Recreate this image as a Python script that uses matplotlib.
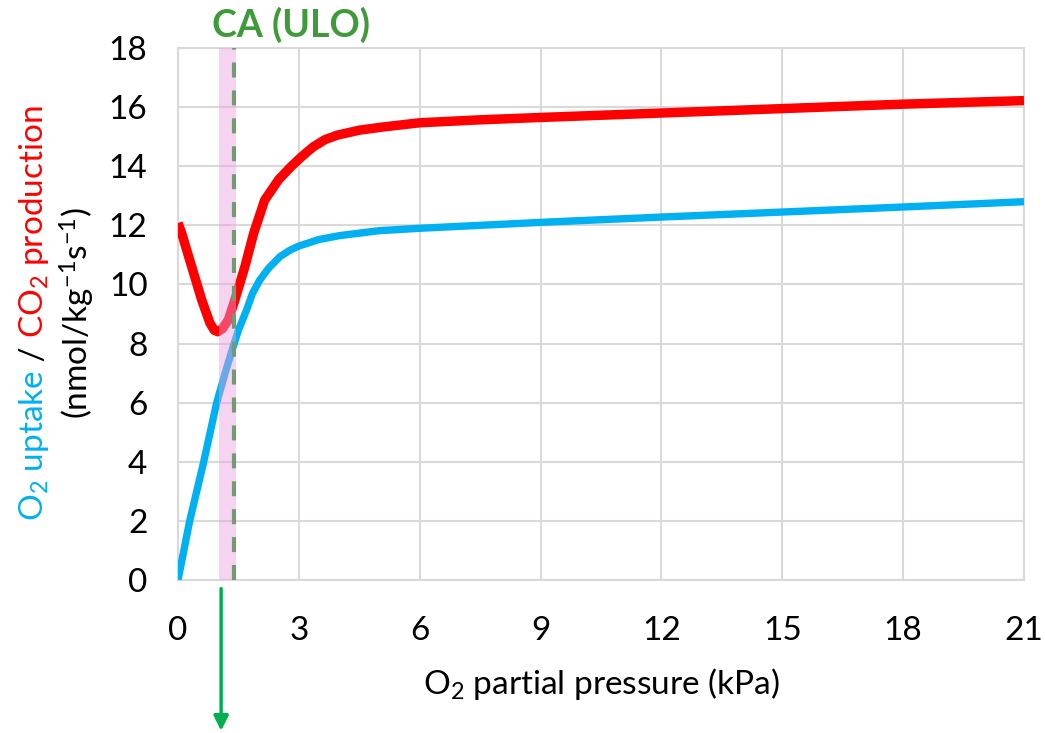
import matplotlib
matplotlib.use("Agg")
import matplotlib.pyplot as plt

plt.rcParams["font.family"] = ["Lato", "DejaVu Sans"]
plt.rcParams["mathtext.fontset"] = "custom"
plt.rcParams["mathtext.rm"] = "Lato"
plt.rcParams["mathtext.it"] = "Lato:italic"
plt.rcParams["mathtext.bf"] = "Lato:bold"

# ── Data ──────────────────────────────────────────────────────────────────────
o2_kpa = [0, 0.29, 0.63, 0.96, 1.17, 1.37, 1.5, 1.7, 1.85, 2.03, 2.25, 2.53, 2.78,
          3.0, 3.5, 4.0, 5.0, 6.0, 9.0, 12.0, 15.0, 18.0, 21.0]
o2_uptake = [0.0, 2.0, 3.95, 6.0, 7.0, 7.9, 8.45, 9.13, 9.7, 10.15, 10.55, 10.94, 11.16,
             11.3, 11.52, 11.65, 11.82, 11.9, 12.1, 12.28, 12.45, 12.62, 12.8]

co2_kpa = [0, 0.09, 0.34, 0.59, 0.79, 0.9, 0.99, 1.1, 1.25, 1.41, 1.66, 1.88,
           2.15, 2.5, 2.8, 3.05, 3.35, 3.65, 3.95, 4.5, 5.1, 6.0, 7.5, 9.0,
           12.0, 15.0, 18.0, 21.0]
co2_prod = [12.08, 11.74, 10.6, 9.47, 8.7, 8.45, 8.4, 8.5, 8.8, 9.47, 10.6, 11.74,
            12.85, 13.55, 13.98, 14.3, 14.65, 14.9, 15.05, 15.22, 15.33, 15.47, 15.57, 15.65,
            15.8, 15.95, 16.1, 16.22]

ulo_band = (1.03, 1.44)     # pink shaded window
ca_line = 1.39              # dashed CA (ULO) marker
arrow_x = 1.07

x_ticks = list(range(0, 22, 3))
y_ticks = list(range(0, 19, 2))

BLUE = "#00B0F0"
RED = "#FF0000"
GREEN_TXT = "#3F9B3A"
GRID = "#D9D9D9"
FS = 24

fig = plt.figure(figsize=(10.45, 7.33), dpi=100)
ax = fig.add_axes([178 / 1045, 153 / 733, 846 / 1045, 532 / 733])

ax.plot(o2_kpa, o2_uptake, color=BLUE, lw=5.3, solid_capstyle="butt",
        solid_joinstyle="round", zorder=3)
ax.plot(co2_kpa, co2_prod, color=RED, lw=6.8, solid_capstyle="butt",
        solid_joinstyle="round", zorder=4)

ax.axvspan(*ulo_band, color="#EE9FE4", alpha=0.45, lw=0, zorder=5)
ax.axvline(ca_line, color="#739A73", lw=3, ls=(0, (3.6, 3.1)), zorder=6)

ax.set_xlim(0, 21)
ax.set_ylim(0, 18)
ax.set_xticks(x_ticks)
ax.set_yticks(y_ticks)
ax.tick_params(axis="x", length=0, labelsize=FS, pad=26)
ax.tick_params(axis="y", length=0, labelsize=FS, pad=22)
ax.grid(True, color=GRID, lw=1.5)
ax.set_axisbelow(True)
for sp in ax.spines.values():
    sp.set_color(GRID)
    sp.set_linewidth(1.5)

ax.set_xlabel("O$_2$ partial pressure (kPa)", fontsize=FS, labelpad=14)

ax.text(0.134, 1.01, "CA (ULO)", transform=ax.transAxes, color=GREEN_TXT,
        fontsize=27, fontweight="bold", ha="center", va="bottom")

ax.annotate("", xy=(arrow_x, 0.003), xycoords=("data", "figure fraction"),
            xytext=(arrow_x, 0.197), textcoords=("data", "figure fraction"),
            arrowprops=dict(arrowstyle="-|>", color="#00B050", lw=2.5,
                            mutation_scale=22, shrinkA=0, shrinkB=0),
            annotation_clip=False)

# ── Multi-coloured rotated y label ────────────────────────────────────────────
pieces = [("O$_2$ uptake", BLUE), (" / ", "black"), ("CO$_2$ production", RED)]
fig.canvas.draw()
renderer = fig.canvas.get_renderer()
x_line1 = 34 / 1045
texts = []
for s, c in pieces:
    t = fig.text(x_line1, 0, s, color=c, fontsize=FS, rotation=90,
                 ha="left", va="center", rotation_mode="anchor")
    texts.append(t)
heights = [t.get_window_extent(renderer).height for t in texts]
total = sum(heights)
y_centre = 733 - 313
y0 = y_centre - total / 2
for t, h in zip(texts, heights):
    t.set_position((x_line1, y0 / 733))
    y0 += h

fig.text(77 / 1045, 1 - 313 / 733, "(nmol/kg$^{-1}$s$^{-1}$)", fontsize=FS,
         rotation=90, ha="center", va="center")

fig.savefig("out.png", dpi=100)
